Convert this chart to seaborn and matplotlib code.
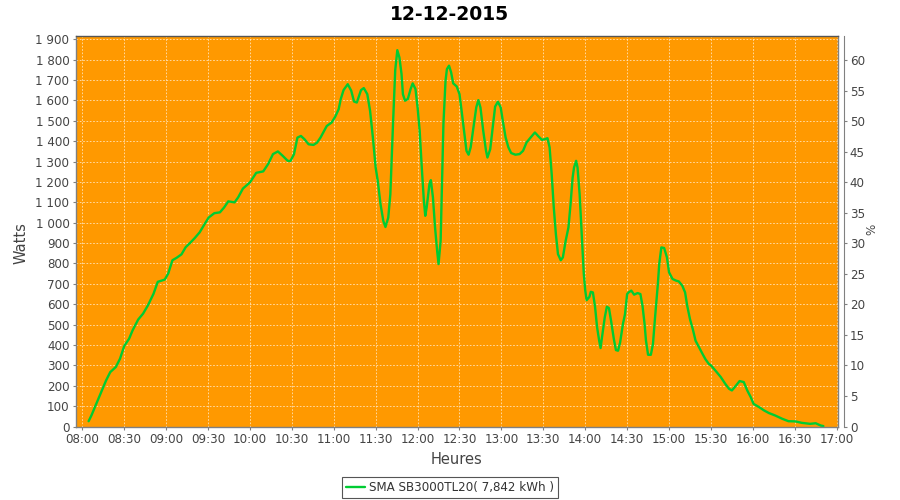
import matplotlib
matplotlib.use("Agg")
import matplotlib.pyplot as plt
import seaborn as sns
import pandas as pd
from matplotlib.ticker import FuncFormatter
from matplotlib.lines import Line2D

# ---------------- data ----------------
title = "12-12-2015"
series_name = "SMA SB3000TL20( 7,842 kWh )"
y_label = "Watts"
x_label = "Heures"
y2_label = "%"

times = [
    "08:04:30", "08:06:30", "08:09:00", "08:11:00", "08:14:00", "08:17:00", "08:20:00", "08:24:00",
    "08:27:00", "08:30:00", "08:33:30", "08:36:00", "08:40:00", "08:43:30", "08:47:00", "08:51:00",
    "08:54:00", "08:59:00", "09:01:30", "09:04:30", "09:07:30", "09:11:00", "09:14:00", "09:17:00",
    "09:20:30", "09:24:00", "09:27:30", "09:30:30", "09:34:30", "09:38:30", "09:41:30", "09:44:30",
    "09:49:00", "09:51:30", "09:55:00", "10:00:00", "10:04:30", "10:09:30", "10:13:00", "10:16:30",
    "10:20:00", "10:23:30", "10:27:00", "10:29:00", "10:31:30", "10:34:00", "10:36:30", "10:39:00",
    "10:42:00", "10:45:30", "10:48:00", "10:50:30", "10:52:30", "10:55:00", "10:58:30", "11:01:00",
    "11:03:30", "11:05:00", "11:07:00", "11:10:00", "11:12:30", "11:14:30", "11:16:30", "11:19:30",
    "11:21:30", "11:24:00", "11:26:00", "11:28:00", "11:30:00", "11:31:30", "11:33:30", "11:35:30",
    "11:37:00", "11:39:00", "11:40:30", "11:42:30", "11:44:00", "11:45:30", "11:47:00", "11:48:30",
    "11:49:30", "11:51:00", "11:53:00", "11:55:00", "11:56:30", "11:58:30", "12:00:00", "12:01:30",
    "12:03:00", "12:04:30", "12:05:30", "12:06:30", "12:08:30", "12:09:30", "12:11:00", "12:12:30",
    "12:14:00", "12:15:00", "12:16:30", "12:17:30", "12:18:30", "12:20:00", "12:21:00", "12:22:30",
    "12:24:00", "12:25:30", "12:28:00", "12:30:00", "12:31:30", "12:33:30", "12:35:00", "12:36:30",
    "12:38:00", "12:40:00", "12:42:00", "12:43:30", "12:45:00", "12:47:00", "12:49:00", "12:50:00",
    "12:52:00", "12:53:30", "12:55:30", "12:57:30", "12:59:30", "13:01:00", "13:03:00", "13:05:00",
    "13:07:00", "13:10:00", "13:13:00", "13:15:30", "13:18:00", "13:21:00", "13:24:00", "13:26:30",
    "13:29:00", "13:31:00", "13:33:00", "13:34:30", "13:36:00", "13:37:30", "13:39:00", "13:40:30",
    "13:42:30", "13:44:00", "13:46:00", "13:48:00", "13:49:30", "13:51:00", "13:52:00", "13:53:30",
    "13:54:30", "13:56:00", "13:57:30", "13:59:00", "14:00:00", "14:01:00", "14:03:00", "14:04:00",
    "14:05:30", "14:07:00", "14:08:30", "14:10:00", "14:11:00", "14:12:00", "14:14:00", "14:15:30",
    "14:17:00", "14:18:30", "14:20:30", "14:22:00", "14:23:30", "14:25:00", "14:27:00", "14:28:30",
    "14:30:00", "14:31:00", "14:33:00", "14:35:00", "14:37:30", "14:39:30", "14:41:00", "14:42:30",
    "14:43:30", "14:45:00", "14:47:00", "14:48:30", "14:50:00", "14:52:00", "14:53:00", "14:54:30",
    "14:56:30", "14:58:30", "15:00:00", "15:02:30", "15:05:00", "15:07:00", "15:09:30", "15:11:30",
    "15:13:00", "15:15:00", "15:17:00", "15:19:00", "15:21:30", "15:24:00", "15:26:00", "15:28:30",
    "15:30:00", "15:33:30", "15:37:00", "15:40:30", "15:43:00", "15:45:00", "15:47:30", "15:50:30",
    "15:53:30", "15:56:00", "15:58:30", "16:00:30", "16:04:30", "16:08:00", "16:11:30", "16:16:00",
    "16:21:00", "16:25:30", "16:30:30", "16:35:00", "16:41:00", "16:45:00", "16:48:30", "16:50:30",
]

watts = [
    26, 54, 95, 128, 177, 226, 267, 292,
    333, 395, 431, 472, 525, 554, 595, 652,
    710, 721, 751, 816, 828, 845, 880, 900,
    925, 953, 993, 1026, 1047, 1051, 1075, 1105,
    1100, 1124, 1168, 1198, 1245, 1252, 1288, 1337,
    1350, 1328, 1304, 1303, 1336, 1418, 1426, 1410,
    1385, 1382, 1393, 1418, 1443, 1475, 1492, 1520,
    1557, 1607, 1651, 1680, 1648, 1595, 1590, 1651,
    1661, 1631, 1549, 1418, 1270, 1205, 1090, 1008,
    979, 1025, 1140, 1500, 1750, 1847, 1811, 1730,
    1631, 1599, 1607, 1656, 1684, 1656, 1566, 1451,
    1271, 1108, 1034, 1075, 1190, 1209, 1124, 977,
    862, 797, 911, 1190, 1484, 1697, 1754, 1771,
    1738, 1684, 1669, 1631, 1550, 1435, 1353, 1334,
    1370, 1468, 1566, 1602, 1566, 1451, 1353, 1320,
    1361, 1451, 1570, 1594, 1566, 1500, 1419, 1370,
    1342, 1334, 1337, 1353, 1394, 1419, 1443, 1424,
    1407, 1410, 1415, 1370, 1239, 1075, 944, 846,
    816, 830, 911, 977, 1091, 1222, 1271, 1304,
    1271, 1140, 944, 748, 669, 620, 636, 661,
    658, 590, 487, 421, 385, 437, 536, 588,
    581, 519, 429, 375, 372, 413, 503, 552,
    650, 658, 667, 647, 655, 650, 593, 503,
    421, 352, 352, 405, 536, 699, 798, 879,
    876, 830, 757, 724, 716, 712, 691, 658,
    593, 527, 478, 421, 388, 356, 331, 307,
    300, 272, 243, 207, 185, 177, 197, 223,
    218, 177, 144, 111, 95, 79, 66, 54,
    38, 26, 25, 18, 13, 16, 5, 2,
]

x_tick_labels = ["08:00", "08:30", "09:00", "09:30", "10:00", "10:30", "11:00", "11:30", "12:00",
                 "12:30", "13:00", "13:30", "14:00", "14:30", "15:00", "15:30", "16:00", "16:30", "17:00"]
y_ticks = list(range(0, 2000, 100))
y2_ticks = list(range(0, 65, 5))

# ---------------- build ----------------
def to_hours(s):
    p = [int(v) for v in s.split(":")]
    return p[0] + p[1] / 60 + (p[2] / 3600 if len(p) > 2 else 0)

df = pd.DataFrame({"h": [to_hours(t) for t in times], "W": watts})
x_ticks = [to_hours(t) for t in x_tick_labels]

sns.set_style("ticks")
plt.rcParams["font.family"] = ["DejaVu Sans"]

W, H = 900, 500
fig = plt.figure(figsize=(9, 5), dpi=100)
fig.patch.set_facecolor("white")
L, R, T, B = 75.7, 838.0, 35.7, 426.5
ax = fig.add_axes([L / W, 1 - B / H, (R - L) / W, (B - T) / H])
ax.set_facecolor("#FF9900")

line_color = "#00CC33"
sns.lineplot(data=df, x="h", y="W", ax=ax, color=line_color, linewidth=1.7, legend=False)

ax.set_xlim(8 - 0.079, 17 + 0.016)
ax.set_ylim(0, 1918)
ax.set_xticks(x_ticks)
ax.set_xticklabels(x_tick_labels)
ax.set_yticks(y_ticks)
ax.yaxis.set_major_formatter(FuncFormatter(lambda v, p: f"{int(v):,}".replace(",", " ")))
ax.set_xlabel("")
ax.set_ylabel("")
ax.grid(True, color="#FFF0D8", linestyle=(0, (2, 2)), linewidth=0.6, alpha=0.85)
ax.set_axisbelow(True)

tick_color = "#444444"
ax.tick_params(axis="both", direction="out", length=2.5, width=0.8, color="#808080",
               labelsize=8.6, labelcolor=tick_color, pad=2)
for s in ["left", "bottom", "top", "right"]:
    ax.spines[s].set_color("#808080")
    ax.spines[s].set_linewidth(1.0)
ax.spines["top"].set_color("#555555")

ax2 = ax.twinx()
ax2.set_ylim(0, 64)
ax2.set_yticks(y2_ticks)
ax2.spines["right"].set_position(("outward", 4))
ax2.spines["right"].set_color("#808080")
for s in ["left", "bottom", "top"]:
    ax2.spines[s].set_visible(False)
ax2.tick_params(axis="y", direction="out", length=2.5, width=0.8, color="#808080",
                labelsize=8.6, labelcolor=tick_color, pad=2)
ax2.grid(False)

fig.text(0.5, 1 - 14 / H, title, ha="center", va="center", fontsize=13.5,
         fontweight="bold", color="black")
fig.text(21 / W, 1 - 243 / H, y_label, ha="center", va="center", rotation=90,
         fontsize=10.5, color="#444444")
fig.text(456 / W, 1 - 460 / H, x_label, ha="center", va="center",
         fontsize=10.5, color="#444444")
fig.text(872 / W, 1 - 229 / H, y2_label, ha="center", va="center", rotation=90,
         fontsize=8.6, color="#444444")

handle = Line2D([], [], color=line_color, linewidth=1.7)
leg = fig.legend([handle], [series_name], loc="center", bbox_to_anchor=(450 / W, 1 - 487.5 / H),
                 frameon=True, fancybox=False, edgecolor="#555555", framealpha=1,
                 fontsize=8.6, handlelength=1.6, handletextpad=0.3, borderpad=0.35,
                 borderaxespad=0)
leg.get_frame().set_linewidth(0.8)
for t in leg.get_texts():
    t.set_color("#333333")

fig.savefig("out.png", dpi=100)
